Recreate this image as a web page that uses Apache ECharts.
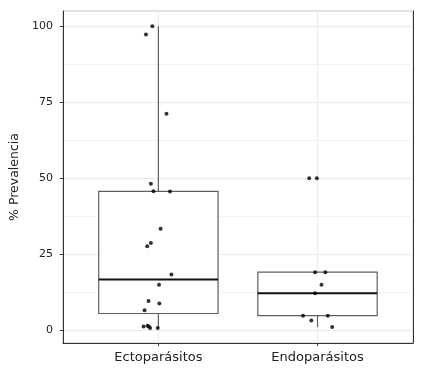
<!DOCTYPE html>
<html>
<head>
<meta charset="utf-8">
<script src="https://cdn.jsdelivr.net/npm/echarts@6/dist/echarts.min.js"></script>
<style>html,body{margin:0;padding:0;background:#fff}#c{width:425px;height:371px}</style>
</head>
<body>
<div id="c"></div>
<script>
// Categories and their positions on the discrete axis
var categories = ['Ectoparásitos', 'Endoparásitos'];
var categoryPos = [1, 2];

// Box statistics: [lower whisker, Q1, median, Q3, upper whisker]
var ectoBox = [0.75, 5.5, 16.7, 45.7, 100];
var endoBox = [1.1, 4.8, 12.2, 19.1, 19.1];

// Jittered points (x = jittered category position, y = % prevalence)
var ectoX = [0.962, 0.922, 1.051, 0.953, 0.969, 1.073, 1.014, 0.953, 0.930, 1.082, 1.004, 0.938, 1.006, 0.913, 0.907, 0.932, 0.940, 0.948, 0.996];
var ectoY = [100, 97.3, 71.2, 48.2, 45.7, 45.6, 33.4, 28.7, 27.6, 18.3, 15.0, 9.6, 8.8, 6.6, 1.2, 1.5, 1.2, 0.75, 0.75];
var endoX = [1.948, 1.996, 1.985, 2.049, 2.025, 1.985, 1.909, 2.065, 1.961, 2.092];
var endoY = [50, 50, 19.1, 19.1, 15.0, 12.2, 4.8, 4.8, 3.2, 1.1];

// Tick values
var yTicks = [0, 25, 50, 75, 100];
var yMinor = [12.5, 37.5, 62.5, 87.5];

var boxData = [
  [categoryPos[0]].concat(ectoBox),
  [categoryPos[1]].concat(endoBox)
];
function zip(xs, ys) { return xs.map(function (x, i) { return [x, ys[i]]; }); }

var FONT = 'DejaVu Sans';
var chart = echarts.init(document.getElementById('c'), null, { renderer: 'canvas' });

var yMin = -4.2, yMax = 105;

chart.setOption({
  animation: false,
  backgroundColor: '#ffffff',
  grid: { left: 57, right: 12, top: 11, bottom: 28, show: true, borderColor: '#c4c4c4', borderWidth: 1, backgroundColor: 'transparent' },
  xAxis: [{
    type: 'value', min: 0.4, max: 2.6,
    splitLine: { show: false },
    axisLine: { show: true, onZero: false, lineStyle: { color: '#333', width: 1 } },
    axisTick: { show: true, length: 3, customValues: categoryPos, lineStyle: { color: '#333' } },
    axisLabel: {
      customValues: categoryPos,
      formatter: function (v) { var i = categoryPos.indexOf(Math.round(v)); return i >= 0 ? categories[i] : ''; },
      fontFamily: FONT, fontSize: 13, color: '#222', margin: 8
    }
  }],
  yAxis: [{
    type: 'value', min: yMin, max: yMax,
    name: '% Prevalencia', nameLocation: 'middle', nameGap: 29,
    nameTextStyle: { fontFamily: FONT, fontSize: 12.5, color: '#222' },
    splitLine: { show: false },
    axisLine: { show: true, onZero: false, lineStyle: { color: '#333', width: 1 } },
    axisTick: { show: true, length: 3, customValues: yTicks, lineStyle: { color: '#333' } },
    axisLabel: { customValues: yTicks, fontFamily: FONT, fontSize: 11, color: '#222', margin: 10 }
  }, {
    type: 'value', min: yMin, max: yMax, position: 'right',
    splitLine: { show: false },
    axisLine: { show: true, onZero: false, lineStyle: { color: '#333', width: 1 } },
    axisTick: { show: false }, axisLabel: { show: false }
  }],
  series: [
    {
      type: 'line', data: [], silent: true, z: 0,
      markLine: {
        silent: true, z: 0, symbol: ['none', 'none'], label: { show: false },
        lineStyle: { color: '#f3f3f3', width: 1, type: 'solid' },
        data: yMinor.map(function (v) { return { yAxis: v }; })
      }
    },
    {
      type: 'line', data: [], silent: true, z: 0,
      markLine: {
        silent: true, z: 0, symbol: ['none', 'none'], label: { show: false },
        lineStyle: { color: '#ebebeb', width: 1, type: 'solid' },
        data: yTicks.map(function (v) { return { yAxis: v }; }).concat(categoryPos.map(function (v) { return { xAxis: v }; }))
      }
    },
    {
      type: 'custom',
      data: boxData,
      renderItem: function (params, api) {
        var x = api.value(0);
        var lo = api.coord([x, api.value(1)]);
        var q1 = api.coord([x, api.value(2)]);
        var md = api.coord([x, api.value(3)]);
        var q3 = api.coord([x, api.value(4)]);
        var hi = api.coord([x, api.value(5)]);
        var w = api.size([0.75, 0])[0];
        var cx = q1[0];
        return {
          type: 'group',
          children: [
            { type: 'line', shape: { x1: cx, y1: q3[1], x2: cx, y2: hi[1] }, style: { stroke: '#5e5e5e', lineWidth: 1.2 } },
            { type: 'line', shape: { x1: cx, y1: q1[1], x2: cx, y2: lo[1] }, style: { stroke: '#5e5e5e', lineWidth: 1.2 } },
            { type: 'rect', shape: { x: cx - w / 2, y: q3[1], width: w, height: q1[1] - q3[1] }, style: { stroke: '#5e5e5e', lineWidth: 1.2, fill: '#fff' } },
            { type: 'line', shape: { x1: cx - w / 2, y1: md[1], x2: cx + w / 2, y2: md[1] }, style: { stroke: '#111', lineWidth: 2 } }
          ]
        };
      },
      z: 3
    },
    {
      type: 'scatter', data: zip(ectoX, ectoY), symbolSize: 4,
      itemStyle: { color: '#000' }, z: 5
    },
    {
      type: 'scatter', data: zip(endoX, endoY), symbolSize: 4,
      itemStyle: { color: '#000' }, z: 5
    }
  ]
});
</script>
</body>
</html>
